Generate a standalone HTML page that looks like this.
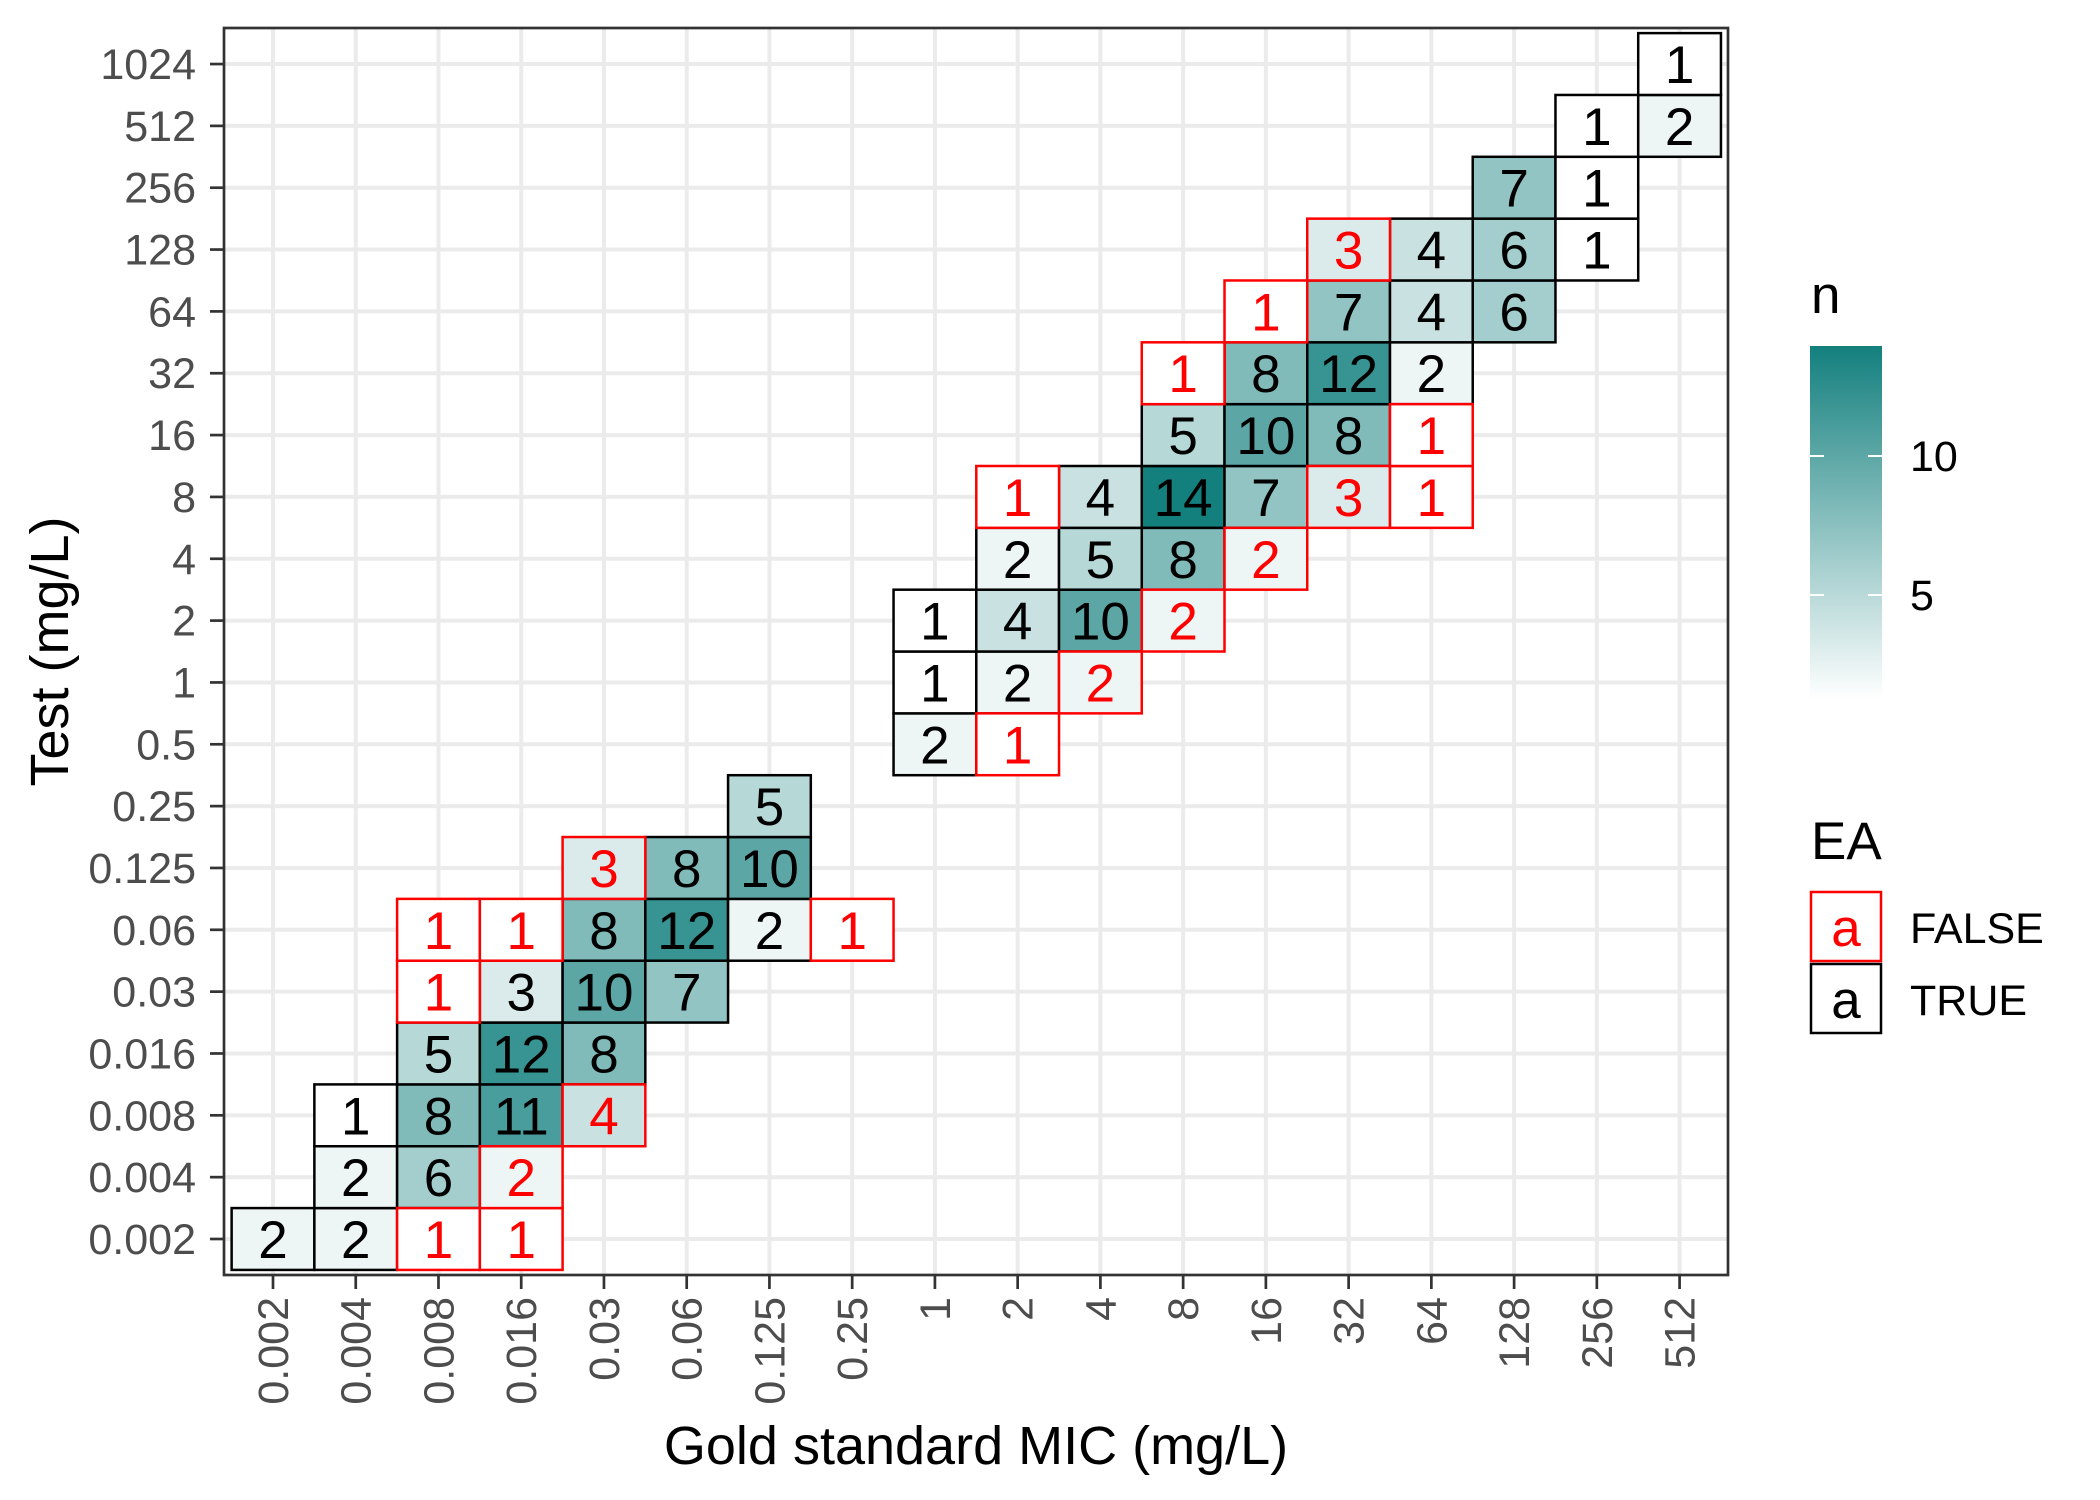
<!DOCTYPE html>
<html><head><meta charset="utf-8"><style>html,body{margin:0;padding:0;background:#fff}svg{display:block}</style></head>
<body>
<svg id="s" width="2100" height="1500" viewBox="0 0 2100 1500" xmlns="http://www.w3.org/2000/svg" font-family="Liberation Sans, Arial, sans-serif">
<defs><linearGradient id="g" x1="0" y1="1" x2="0" y2="0"><stop offset="0" stop-color="#ffffff"/><stop offset="1" stop-color="#13807e"/></linearGradient></defs>
</svg>
<script>
const s=document.getElementById('s');const NS='http://www.w3.org/2000/svg';
function el(t,a,txt){const e=document.createElementNS(NS,t);for(const k in a)e.setAttribute(k,a[k]);if(txt!==undefined)e.textContent=txt;s.appendChild(e);return e;}
const L=224,R=1728,T=28,B=1275;
const x0=273,dx=82.74,y0=1239,dy=61.84;
const xl=['0.002','0.004','0.008','0.016','0.03','0.06','0.125','0.25','1','2','4','8','16','32','64','128','256','512'];
const yl=['0.002','0.004','0.008','0.016','0.03','0.06','0.125','0.25','0.5','1','2','4','8','16','32','64','128','256','512','1024'];
el('rect',{x:L,y:T,width:R-L,height:B-T,fill:'#fff'});
xl.forEach((v,i)=>{const x=x0+i*dx;el('line',{x1:x,x2:x,y1:T,y2:B,stroke:'#ebebeb','stroke-width':4});});
yl.forEach((v,i)=>{const y=y0-i*dy;el('line',{x1:L,x2:R,y1:y,y2:y,stroke:'#ebebeb','stroke-width':4});});
const D=[[0,0,2,1],[1,0,2,1],[2,0,1,0],[3,0,1,0],
[1,1,2,1],[2,1,6,1],[3,1,2,0],
[1,2,1,1],[2,2,8,1],[3,2,11,1],[4,2,4,0],
[2,3,5,1],[3,3,12,1],[4,3,8,1],
[2,4,1,0],[3,4,3,1],[4,4,10,1],[5,4,7,1],
[2,5,1,0],[3,5,1,0],[4,5,8,1],[5,5,12,1],[6,5,2,1],[7,5,1,0],
[4,6,3,0],[5,6,8,1],[6,6,10,1],
[6,7,5,1],
[8,8,2,1],[9,8,1,0],
[8,9,1,1],[9,9,2,1],[10,9,2,0],
[8,10,1,1],[9,10,4,1],[10,10,10,1],[11,10,2,0],
[9,11,2,1],[10,11,5,1],[11,11,8,1],[12,11,2,0],
[9,12,1,0],[10,12,4,1],[11,12,14,1],[12,12,7,1],[13,12,3,0],[14,12,1,0],
[11,13,5,1],[12,13,10,1],[13,13,8,1],[14,13,1,0],
[11,14,1,0],[12,14,8,1],[13,14,12,1],[14,14,2,1],
[12,15,1,0],[13,15,7,1],[14,15,4,1],[15,15,6,1],
[13,16,3,0],[14,16,4,1],[15,16,6,1],[16,16,1,1],
[15,17,7,1],[16,17,1,1],
[16,18,1,1],[17,18,2,1],
[17,19,1,1]];
function col(n){const t=(n-1)/13;const c=(a,b)=>Math.round(a+(b-a)*t);return `rgb(${c(255,19)},${c(255,128)},${c(255,126)})`;}
[1,0].forEach(pass=>D.filter(d=>d[3]===pass).forEach(([c,r,n,e])=>{const x=x0+c*dx,y=y0-r*dy;
el('rect',{x:x-dx/2,y:y-dy/2,width:dx,height:dy,fill:col(n),stroke:e?'#000':'#ff0000','stroke-width':2.5});}));
D.forEach(([c,r,n,e])=>{const x=x0+c*dx,y=y0-r*dy;el('text',{x:x,y:y+19,'font-size':53,'text-anchor':'middle',fill:e?'#000':'#ff0000'},n);});
el('rect',{x:L,y:T,width:R-L,height:B-T,fill:'none',stroke:'#333','stroke-width':2.7});
xl.forEach((v,i)=>{const x=x0+i*dx;el('line',{x1:x,x2:x,y1:B,y2:B+14,stroke:'#333','stroke-width':2.7});
el('text',{x:0,y:0,transform:`translate(${x+15},${B+22}) rotate(-90)`,'font-size':43,'text-anchor':'end',fill:'#4d4d4d'},v);});
yl.forEach((v,i)=>{const y=y0-i*dy;el('line',{x1:L-14,x2:L,y1:y,y2:y,stroke:'#333','stroke-width':2.7});
el('text',{x:196,y:y+15,'font-size':43,'text-anchor':'end',fill:'#4d4d4d'},v);});
el('text',{x:(L+R)/2,y:1464,'font-size':54,'text-anchor':'middle'},'Gold standard MIC (mg/L)');
el('text',{x:0,y:0,transform:`translate(68,${(T+B)/2}) rotate(-90)`,'font-size':54,'text-anchor':'middle'},'Test (mg/L)');
el('text',{x:1811,y:313,'font-size':53},'n');
el('rect',{x:1810,y:346,width:72,height:354,fill:'url(#g)'});
[[10,456],[5,595]].forEach(([v,y])=>{el('line',{x1:1810,x2:1824,y1:y,y2:y,stroke:'#fff','stroke-width':2});el('line',{x1:1868,x2:1882,y1:y,y2:y,stroke:'#fff','stroke-width':2});
el('text',{x:1910,y:y+15,'font-size':43},v);});
el('text',{x:1811,y:859,'font-size':53},'EA');
el('rect',{x:1811,y:892,width:70,height:69,fill:'#fff',stroke:'#ff0000','stroke-width':2.5});
el('text',{x:1846,y:946,'font-size':53,'text-anchor':'middle',fill:'#ff0000'},'a');
el('rect',{x:1811,y:964,width:70,height:69,fill:'#fff',stroke:'#000','stroke-width':2.5});
el('text',{x:1846,y:1018,'font-size':53,'text-anchor':'middle',fill:'#000'},'a');
el('text',{x:1910,y:943,'font-size':43},'FALSE');
el('text',{x:1910,y:1015,'font-size':43},'TRUE');
</script>
</body></html>
